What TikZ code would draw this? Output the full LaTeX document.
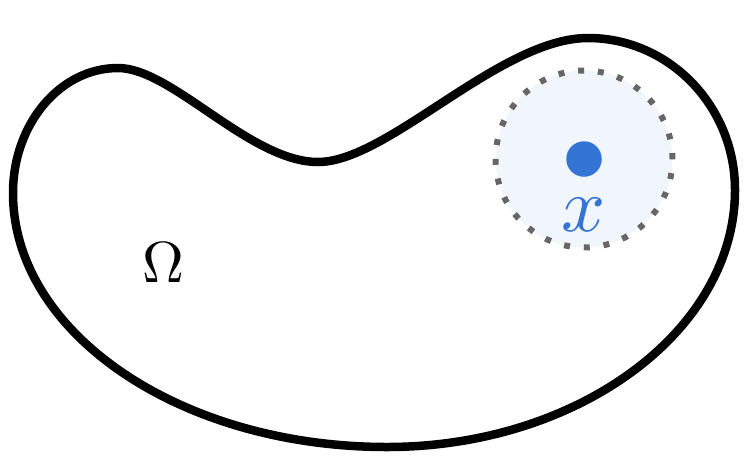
\documentclass[tikz,border=0pt]{standalone}
\definecolor{dotblue}{RGB}{52,116,213}
\definecolor{ballfill}{RGB}{241,246,252}
\definecolor{ballgray}{RGB}{102,102,102}
\usetikzlibrary{positioning}

\begin{document}
\begin{tikzpicture}[x=0.02cm,y=-0.02cm,
    blob/.style={draw=black,line width=0.17cm,line join=round},
    ball/.style={circle,draw=ballgray,fill=ballfill,line width=0.12cm,
                 dash pattern=on 0.12cm off 0.277cm,minimum size=3.54cm,inner sep=0pt},
    pt/.style={circle,fill=dotblue,minimum size=0.71cm,inner sep=0pt},
    lbl/.style={inner sep=0pt,font=\normalsize}]

  \useasboundingbox (0,0) rectangle (753,474);

  % the domain
  \draw[blob] (13,193) .. controls (13,124) and (60,68) .. (118,68)
              .. controls (172,68) and (250,162) .. (318,162)
              .. controls (388,162) and (500,38) .. (588,38)
              .. controls (669,38) and (735,106) .. (735,190)
              .. controls (735,331) and (578,447) .. (387,447)
              .. controls (180,447) and (13,333) .. cycle;

  \node[ball] (nbhd) at (584,159) {};
  \node[pt] (xpt) at (584,159) {};
  \node[lbl,text=dotblue,scale=4.4] (xlab) at (584,215) {$x$};
  \node[lbl,scale=3.3] (omega) at (163,263) {$\Omega$};
\end{tikzpicture}
\end{document}
